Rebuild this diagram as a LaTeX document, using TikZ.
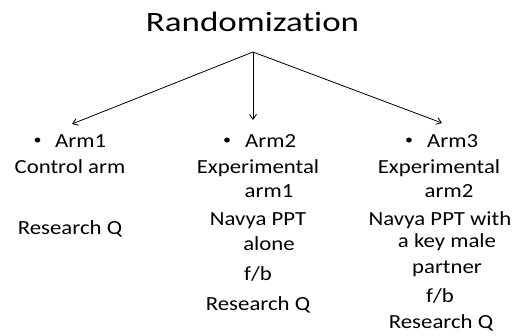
\documentclass[tikz,border=0pt]{standalone}
\usepackage{fontspec}
\setmainfont{Carlito}[Ligatures=NoCommon]
\newfontfamily\titlefont[FakeStretch=1.25,Ligatures=NoCommon]{Carlito}
\newfontfamily\bodyfont[FakeStretch=1.14,Ligatures=NoCommon]{Carlito}
\usetikzlibrary{arrows.meta}
\begin{document}
\begin{tikzpicture}[x=1pt,y=-1pt,
  ttl/.style={inner sep=0pt,anchor=base,font=\titlefont\fontsize{28}{30}\selectfont},
  txt/.style={inner sep=0pt,anchor=base,font=\bodyfont\fontsize{20}{22}\selectfont},
  txtl/.style={txt,anchor=base west},
  bul/.style={inner sep=0pt,anchor=center,font=\bodyfont\fontsize{14}{16}\selectfont},
  conn/.style={line width=0.8pt,-{Straight Barb[length=5pt,width=7pt]}}]
\useasboundingbox (0,0) rectangle (516,336);
\node[ttl] (title) at (252.5,32) {Randomization};
\coordinate (src) at (253,52);
\coordinate (e1) at (72,124);
\coordinate (e2) at (253,120);
\coordinate (e3) at (442,123);
\draw[conn] (src) -- (e1);
\draw[conn] (src) -- (e2);
\draw[conn] (src) -- (e3);
% column 1
\node[bul] (b1) at (37.5,141.5) {•};
\node[txtl] (arm1) at (55,148) {Arm1};
\node[txt] (c1a) at (70,174) {Control arm};
\node[txt] (c1b) at (70,235) {Research Q};
% column 2
\node[bul] (b2) at (227,141) {•};
\node[txtl] (arm2) at (245,147.5) {Arm2};
\node[txt] (c2a) at (258,174) {Experimental};
\node[txt] (c2b) at (269,198) {arm1};
\node[txt] (c2c) at (258,226) {Navya PPT};
\node[txt] (c2d) at (269,251) {alone};
\node[txt] (c2e) at (258,280) {f/b};
\node[txt] (c2f) at (258,310) {Research Q};
% column 3
\node[bul] (b3) at (409,141) {•};
\node[txtl] (arm3) at (427,147.5) {Arm3};
\node[txt] (c3a) at (439,174) {Experimental};
\node[txt] (c3b) at (449,198) {arm2};
\node[txt] (c3c) at (440,226) {Navya PPT with};
\node[txt] (c3d) at (447,248) {a key male};
\node[txt] (c3e) at (447,274) {partner};
\node[txt] (c3f) at (440,302) {f/b};
\node[txt] (c3g) at (441,328) {Research Q};
\end{tikzpicture}
\end{document}
